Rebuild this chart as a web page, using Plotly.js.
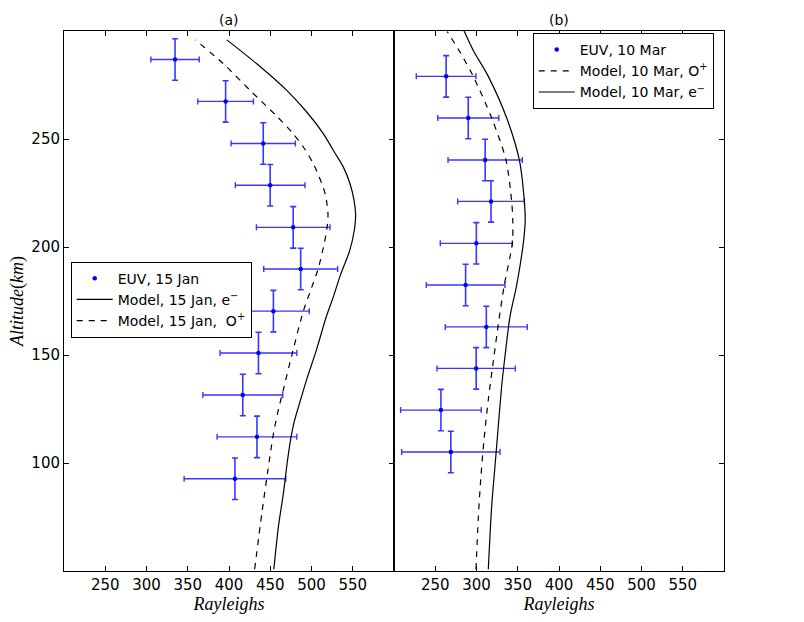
<!DOCTYPE html>
<html>
<head>
<meta charset="utf-8">
<script src="https://cdn.plot.ly/plotly-3.0.1.min.js"></script>
<style>html,body{margin:0;padding:0;background:#fff;}</style>
</head>
<body>
<div id="chart" style="width:804px;height:622px;"></div>
<script>
// ---------- Panel (a): 15 Jan ----------
const janEuvRayleighs = [334.6, 395.9, 441.5, 449.9, 477.8, 486.9, 453.8, 435.7, 416.7, 433.9, 407.2];
const janEuvAltitude  = [286.8, 267.4, 247.9, 228.6, 209.1, 189.8, 170.3, 150.9, 131.5, 112.1, 92.7];
const janEuvRayErr    = [29.3, 33.7, 39.0, 42.2, 44.6, 44.8, 43.5, 46.5, 48.4, 48.3, 61.6];
const janEuvAltErr    = [9.6, 9.6, 9.6, 9.6, 9.6, 9.6, 9.6, 9.6, 9.6, 9.6, 9.6];

const janElecRayleighs = [454.3, 460.0, 466.0, 470.0, 474.0, 479.0, 485.0, 494.0, 506.0, 518.0, 527.0, 535.0, 546.0, 552.0, 553.5, 551.5, 546.6, 538.5, 526.4, 514.3, 494.2, 470.0, 433.7, 397.4];
const janElecAltitude  = [50.8, 70.8, 86.2, 98.5, 109.3, 119.0, 127.0, 138.5, 152.4, 167.8, 177.5, 187.0, 198.0, 208.0, 215.0, 221.7, 229.4, 237.1, 244.8, 252.5, 262.5, 272.5, 284.8, 295.9];

const janOxyRayleighs = [431.1, 439.9, 446.7, 454.0, 459.9, 464.3, 476.8, 490.1, 500.0, 508.0, 514.5, 518.5, 520.0, 517.0, 512.4, 502.2, 490.1, 476.1, 458.0, 425.6, 393.3, 359.1];
const janOxyAltitude  = [50.8, 77.0, 95.4, 113.9, 124.7, 131.5, 150.9, 170.3, 181.0, 189.8, 200.0, 208.0, 215.0, 224.0, 229.4, 238.6, 246.3, 253.2, 260.5, 272.5, 284.8, 295.9];

// ---------- Panel (b): 10 Mar ----------
const marEuvRayleighs = [263.2, 290.0, 310.5, 317.6, 299.8, 286.8, 311.9, 299.6, 256.9, 268.9];
const marEuvAltitude  = [279.0, 259.7, 240.3, 221.1, 201.7, 182.4, 163.0, 143.8, 124.5, 105.1];
const marEuvRayErr    = [36.2, 37.0, 45.0, 40.4, 43.7, 47.7, 49.7, 47.5, 48.9, 59.6];
const marEuvAltErr    = [9.6, 9.6, 9.6, 9.6, 9.6, 9.6, 9.6, 9.6, 9.6, 9.6];

const marElecRayleighs = [314.3, 318.4, 322.4, 326.4, 330.5, 334.5, 340.6, 348.7, 356.7, 359.0, 358.0, 351.9, 336.6, 314.3, 296.1, 284.8];
const marElecAltitude  = [50.8, 80.0, 98.5, 117.0, 135.5, 149.3, 167.8, 182.4, 201.7, 212.0, 221.1, 240.3, 259.7, 279.0, 291.0, 300.2];

const marOxyRayleighs = [299.4, 302.1, 305.1, 309.1, 314.3, 319.6, 327.5, 333.7, 343.4, 344.0, 342.6, 335.7, 318.4, 296.1, 280.0, 264.6];
const marOxyAltitude  = [50.8, 73.9, 92.4, 110.8, 129.3, 144.9, 167.0, 182.4, 201.7, 212.0, 221.1, 240.3, 259.7, 279.0, 290.2, 299.7];

const xTickValues = [250, 300, 350, 400, 450, 500, 550];
const yTickValues = [100, 150, 200, 250];
const panelTitles = ['(a)', '(b)'];

const nb = '\u00a0';
const sansFont = 'DejaVu Sans, sans-serif';
const serifFont = 'Liberation Serif, DejaVu Serif, serif';
const blue = 'rgb(0,0,255)';
const errBlue = 'rgba(20,20,255,0.85)';

function euvTrace(x, y, ex, ey, name, xa, ya, legend) {
  return {
    type: 'scatter', mode: 'markers', x: x, y: y, name: name,
    xaxis: xa, yaxis: ya, legend: legend,
    marker: {color: blue, size: 4.5},
    error_x: {type: 'data', array: ex, visible: true, color: errBlue, thickness: 1.4, width: 3},
    error_y: {type: 'data', array: ey, visible: true, color: errBlue, thickness: 1.6, width: 3}
  };
}
function modelTrace(x, y, name, dash, xa, ya, legend) {
  return {
    type: 'scatter', mode: 'lines', x: x, y: y, name: name,
    xaxis: xa, yaxis: ya, legend: legend,
    line: {color: 'black', width: 1.2, dash: dash, shape: 'spline', smoothing: 0.8}
  };
}

const traces = [
  euvTrace(janEuvRayleighs, janEuvAltitude, janEuvRayErr, janEuvAltErr, 'EUV, 15 Jan', 'x', 'y', 'legend'),
  modelTrace(janElecRayleighs, janElecAltitude, 'Model, 15 Jan, e<sup>\u2212</sup>', 'solid', 'x', 'y', 'legend'),
  modelTrace(janOxyRayleighs, janOxyAltitude, 'Model, 15 Jan,' + nb + nb + 'O<sup>+</sup>', '6px,6px', 'x', 'y', 'legend'),
  euvTrace(marEuvRayleighs, marEuvAltitude, marEuvRayErr, marEuvAltErr, 'EUV, 10 Mar', 'x2', 'y2', 'legend2'),
  modelTrace(marOxyRayleighs, marOxyAltitude, 'Model, 10 Mar, O<sup>+</sup>', '6px,6px', 'x2', 'y2', 'legend2'),
  modelTrace(marElecRayleighs, marElecAltitude, 'Model, 10 Mar, e<sup>\u2212</sup>', 'solid', 'x2', 'y2', 'legend2')
];

const axisCommon = {
  showgrid: false, zeroline: false, showline: true, linecolor: 'black', linewidth: 1,
  ticks: 'inside', ticklen: 5, tickwidth: 1, tickcolor: 'black',
  tickfont: {family: sansFont, size: 15, color: 'black'}
};
const xTitle = {text: '<i>Rayleighs</i>', font: {family: serifFont, size: 18, color: 'black'}, standoff: 0};
const legendCommon = {xanchor: 'left', yanchor: 'top', bgcolor: 'white', bordercolor: 'black', borderwidth: 1,
  itemwidth: 36, font: {family: sansFont, size: 14, color: 'black'}};

const layout = {
  width: 804, height: 622,
  margin: {l: 64, r: 80, t: 31, b: 51},
  paper_bgcolor: 'white', plot_bgcolor: 'white',
  font: {family: sansFont, size: 14, color: 'black'},
  showlegend: true,
  xaxis: Object.assign({}, axisCommon, {domain: [0, 0.5], range: [200, 600], tickvals: xTickValues, mirror: 'ticks', anchor: 'y', title: xTitle}),
  yaxis: Object.assign({}, axisCommon, {domain: [0, 1], range: [50, 300], tickvals: yTickValues, mirror: 'ticks', anchor: 'x',
    title: {text: '<i>Altitude</i>(<i>km</i>)', font: {family: serifFont, size: 18, color: 'black'}, standoff: 3}}),
  xaxis2: Object.assign({}, axisCommon, {domain: [0.5, 1], range: [200, 600], tickvals: xTickValues, mirror: 'ticks', anchor: 'y2', title: xTitle}),
  yaxis2: Object.assign({}, axisCommon, {domain: [0, 1], range: [50, 300], tickvals: yTickValues, side: 'right', mirror: true, anchor: 'x2', showticklabels: false}),
  legend: Object.assign({}, legendCommon, {x: 0.0102, y: 0.573}),
  legend2: Object.assign({}, legendCommon, {x: 0.7102, y: 0.9963}),
  annotations: panelTitles.map(function (t, i) {
    return {text: t, xref: i === 0 ? 'x domain' : 'x2 domain', yref: 'paper', x: 0.5, y: 1,
      xanchor: 'center', yanchor: 'bottom', yshift: 1, showarrow: false,
      font: {family: sansFont, size: 14, color: 'black'}};
  })
};

Plotly.newPlot('chart', traces, layout, {displayModeBar: false, staticPlot: true});
</script>
</body>
</html>
